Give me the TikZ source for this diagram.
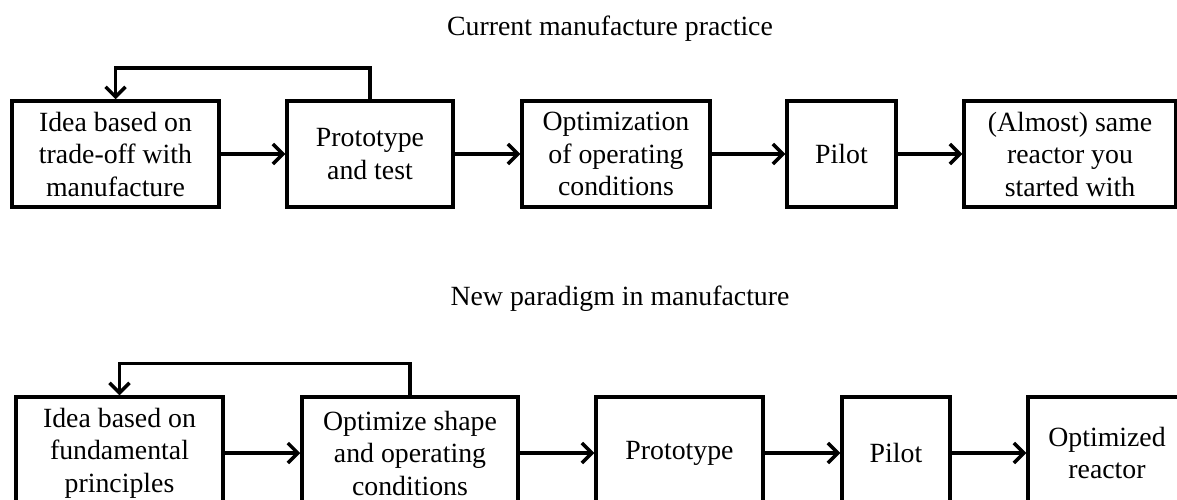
\documentclass[tikz,border=0pt]{standalone}
\usepackage{fontspec}
\setmainfont{Liberation Serif}
\usetikzlibrary{arrows.meta}
\begin{document}
\begin{tikzpicture}[x=1pt,y=-1pt,
  box/.style={draw,line width=3.5pt,rectangle,minimum height=106pt,inner sep=2pt,align=center,font=\fontsize{27.8}{32.5}\selectfont},
  lowbox/.style={box,minimum height=112pt},
  title/.style={font=\fontsize{27.8}{32.5}\selectfont,inner sep=0pt},
  arr/.style={line width=3.5pt,-{Straight Barb[length=10pt,width=20pt,line width=3.5pt]}}]
\useasboundingbox (0,0) rectangle (1177,500);
\clip (0,0) rectangle (1177,500);
\node[title] (t1) at (610,29) {Current manufacture practice};
\node[box,minimum width=207pt] (a1) at (115.5,154) {Idea based on\\trade-off with\\manufacture};
\node[box,minimum width=166pt] (a2) at (370,154) {Prototype\\and test};
\node[box,minimum width=188pt] (a3) at (616,154) {Optimization\\of operating\\conditions};
\node[box,minimum width=109pt] (a4) at (841.5,154) {Pilot};
\node[box,minimum width=212pt] (a5) at (1070,154) {(Almost) same\\reactor you\\started with};
\draw[arr] (a1.east) -- (a2.west);
\draw[arr] (a2.east) -- (a3.west);
\draw[arr] (a3.east) -- (a4.west);
\draw[arr] (a4.east) -- (a5.west);
\draw[arr] (a2.north) -- ++(0,-31) -| (a1.north);
\node[title] (t2) at (620,299) {New paradigm in manufacture};
\node[lowbox,minimum width=207pt] (b1) at (119.5,453) {Idea based on\\fundamental\\principles};
\node[lowbox,minimum width=216pt] (b2) at (410,453) {Optimize shape\\and operating\\conditions};
\node[lowbox,minimum width=167pt] (b3) at (679.5,453) {Prototype};
\node[lowbox,minimum width=108pt] (b4) at (896,453) {Pilot};
\node[lowbox,minimum width=158pt] (b5) at (1107,453) {Optimized\\reactor};
\draw[arr] (b1.east) -- (b2.west);
\draw[arr] (b2.east) -- (b3.west);
\draw[arr] (b3.east) -- (b4.west);
\draw[arr] (b4.east) -- (b5.west);
\draw[arr] (b2.north) -- ++(0,-32) -| (b1.north);
\end{tikzpicture}
\end{document}
